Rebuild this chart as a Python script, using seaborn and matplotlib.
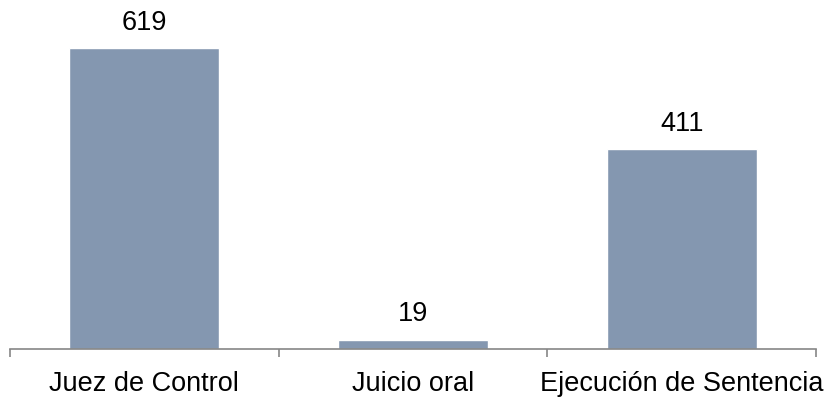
import matplotlib
matplotlib.use("Agg")
import matplotlib.pyplot as plt
import seaborn as sns
import pandas as pd

categories = ["Juez de Control", "Juicio oral", "Ejecución de Sentencia"]
values = [619, 19, 411]

sns.set_theme(style="white")
plt.rcParams['font.family'] = ['Liberation Sans', 'DejaVu Sans']

df = pd.DataFrame({"cat": categories, "val": values})

fig = plt.figure(figsize=(8.26, 3.98), dpi=100)
ax = fig.add_axes([10/826, (398-349)/398, 806/826, 349/398])
sns.barplot(data=df, x="cat", y="val", color="#8497B0", saturation=1, width=0.558, ax=ax)

ax.set_xlim(-0.5, 2.5)
ax.set_ylim(0, 718)
for s in ["top", "right", "left"]:
    ax.spines[s].set_visible(False)
ax.spines["bottom"].set_color("#868686")
ax.spines["bottom"].set_linewidth(1.2)
ax.set_yticks([])
ax.set_xlabel("")
ax.set_ylabel("")
ax.set_xticks([-0.5, 0.5, 1.5, 2.5], minor=True)
ax.tick_params(axis="x", which="minor", direction="out", length=6, width=1.2, color="#868686", bottom=True)
ax.tick_params(axis="x", which="major", length=0, pad=15.5, labelsize=19.5, labelcolor="black")

for c in ax.containers:
    ax.bar_label(c, labels=[str(v) for v in values], padding=9, fontsize=19.5, color="black")

fig.savefig("out.png", dpi=100)
